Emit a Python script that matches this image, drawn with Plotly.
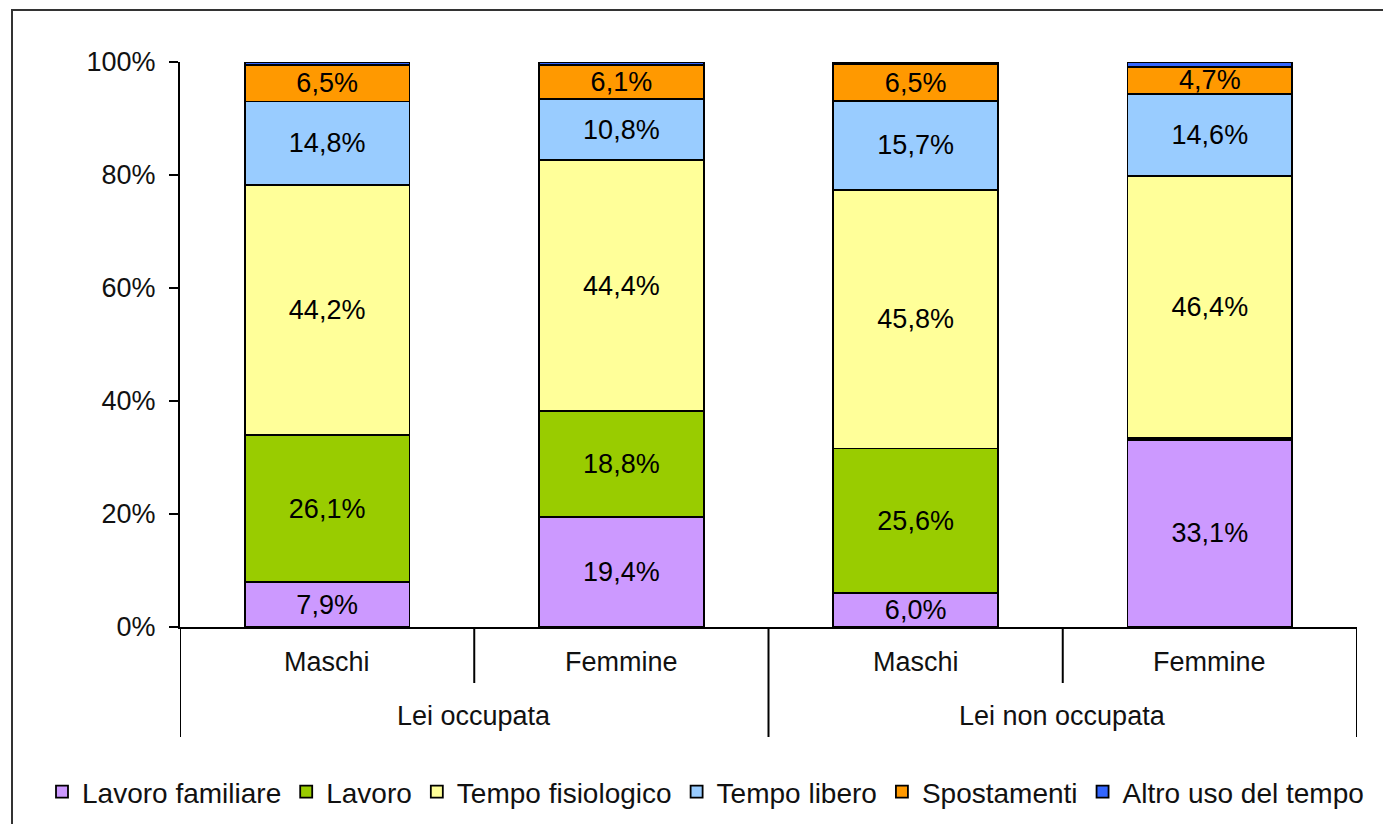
import plotly.graph_objects as go

# ---- data ----
groups = ["Lei occupata", "Lei occupata", "Lei non occupata", "Lei non occupata"]
sexes = ["Maschi", "Femmine", "Maschi", "Femmine"]
series_names = ["Lavoro familiare", "Lavoro", "Tempo fisiologico", "Tempo libero",
                "Spostamenti", "Altro uso del tempo"]
lavoro_familiare = [7.9, 19.4, 6.0, 33.1]
lavoro = [26.1, 18.8, 25.6, 0.3]
tempo_fisiologico = [44.2, 44.4, 45.8, 46.4]
tempo_libero = [14.8, 10.8, 15.7, 14.6]
spostamenti = [6.5, 6.1, 6.5, 4.7]
altro = [0.5, 0.5, 0.4, 0.9]
y_ticks = [0, 20, 40, 60, 80, 100]
y_tick_labels = ["0%", "20%", "40%", "60%", "80%", "100%"]

series_values = [lavoro_familiare, lavoro, tempo_fisiologico, tempo_libero, spostamenti, altro]
colors = ["#CC99FF", "#99CC00", "#FFFF99", "#99CCFF", "#FF9900", "#3366FF"]
show_labels = [True, True, True, True, True, False]

cats = [f"{g} - {s}" for g, s in zip(groups, sexes)]

FONT = "Liberation Sans, Arial, sans-serif"

# page body has an 8px offset; compensate so the plot lands where intended
OFF = 8
L, T, PW, PH = 180 - OFF, 62 - OFF, 1177, 565

fig = go.Figure()
for name, vals, col, lab in zip(series_names, series_values, colors, show_labels):
    texts = [(f"{v:.1f}%".replace(".", ",") if (lab and v >= 1) else "") for v in vals]
    fig.add_trace(go.Bar(
        x=cats, y=vals, name=name,
        marker=dict(color=col, line=dict(color="black", width=1.8)),
        text=texts, textposition="inside", insidetextanchor="middle",
        textangle=0, constraintext="none",
        textfont=dict(family=FONT, size=27, color="black"),
        width=0.56, hoverinfo="skip",
    ))

# ---- category labels ----
annotations = []
for c, s in zip(cats, sexes):
    annotations.append(dict(x=c, y=-0.062, xref="x", yref="paper", text=s,
                            showarrow=False, yanchor="middle",
                            font=dict(family=FONT, size=27, color="#111")))
seen = []
for g in groups:
    if g not in seen:
        seen.append(g)
for g in seen:
    idx = [i for i, gg in enumerate(groups) if gg == g]
    annotations.append(dict(x=(idx[0] + idx[-1]) / 2, y=-0.1575, xref="x", yref="paper",
                            text=g, showarrow=False, yanchor="middle",
                            font=dict(family=FONT, size=27, color="#111")))

# ---- dividers ----
shapes = []
n = len(cats)
for i in range(n + 1):
    xb = i - 0.5
    outer = (i == 0 or i == n or (0 < i < n and groups[i] != groups[i - 1]))
    y1 = -0.1947 if outer else -0.0991
    shapes.append(dict(type="line", xref="x", yref="paper", x0=xb, x1=xb, y0=0, y1=y1,
                       line=dict(color="black", width=2)))
# outer frame
shapes.append(dict(type="rect", xref="paper", yref="paper",
                   x0=(12 - 180) / PW, x1=1.05, y0=-0.4, y1=(627 - 10) / PH,
                   line=dict(color="#333", width=2), fillcolor="rgba(0,0,0,0)", layer="below"))

fig.update_layout(
    width=1391, height=824,
    barmode="stack",
    paper_bgcolor="white", plot_bgcolor="white",
    margin=dict(l=L, r=1391 - L - PW, t=T, b=824 - T - PH),
    font=dict(family=FONT, size=27, color="#111"),
    separators=",.",
    xaxis=dict(type="category", showticklabels=False, ticks="", showgrid=False,
               showline=True, linecolor="black", linewidth=2, range=[-0.5, 3.5],
               zeroline=False),
    yaxis=dict(range=[0, 100], tickmode="array", tickvals=y_ticks, ticktext=y_tick_labels,
               showgrid=False,
               showline=True, linecolor="black", linewidth=2, ticks="outside",
               ticklen=9, tickwidth=2, tickcolor="black", zeroline=False,
               tickfont=dict(family=FONT, size=27, color="#111"), ticklabelstandoff=8),
    legend=dict(orientation="h", x=(42 - 180) / PW, xanchor="left",
                y=(627 - 792) / PH, yanchor="middle",
                font=dict(family=FONT, size=28, color="#111"),
                itemwidth=30, traceorder="normal", bgcolor="rgba(0,0,0,0)"),
    annotations=annotations,
    shapes=shapes,
    bargap=0.44,
)

fig.write_html("out.html")
